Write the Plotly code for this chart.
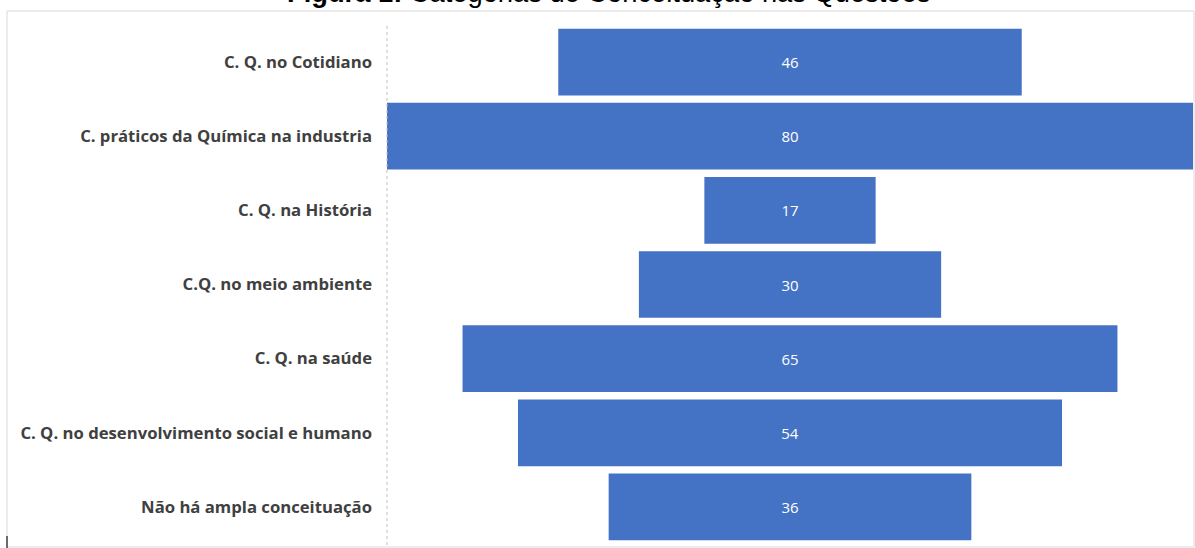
import plotly.graph_objects as go

categories = [
    "C. Q. no Cotidiano",
    "C. práticos da Química na industria",
    "C. Q. na História",
    "C.Q. no meio ambiente",
    "C. Q. na saúde",
    "C. Q. no desenvolvimento social e humano",
    "Não há ampla conceituação",
]
values = [46, 80, 17, 30, 65, 54, 36]
title_text = "<b>Figura 1:</b> Categorias de Conceituação nas Questões"

W, H = 1195, 548
ml, mr, mt, mb = 387, 2, 25, 4

fig = go.Figure(go.Funnel(
    y=categories,
    x=values,
    marker=dict(color="#4472C4", line=dict(width=0)),
    connector=dict(visible=False),
    textinfo="value",
    textposition="inside",
    insidetextanchor="middle",
    textfont=dict(color="white", size=15, family="Open Sans"),
    constraintext="none",
))

fig.update_layout(
    width=W, height=H,
    margin=dict(l=ml, r=mr, t=mt, b=mb),
    paper_bgcolor="white",
    plot_bgcolor="white",
    showlegend=False,
    funnelgap=0.1,
    xaxis=dict(visible=False, range=[-40, 40]),
    yaxis=dict(
        showgrid=False, showline=False, ticks="",
        tickfont=dict(family="Open Sans", size=16.7, color="#404040", weight="bold"),
        ticklabelstandoff=14,
    ),
)

ph = H - mt - mb
def py(pix):
    return (H - mb - pix) / ph
pw = W - ml - mr
def px(pix):
    return (pix - ml) / pw

# frame
fig.add_shape(type="rect", xref="paper", yref="paper",
              x0=px(7), x1=px(1194), y0=py(547), y1=py(11),
              line=dict(color="#D9D9D9", width=1), layer="below")
# dashed axis line
fig.add_shape(type="line", xref="paper", yref="paper",
              x0=0, x1=0, y0=py(545), y1=py(26),
              line=dict(color="#BFBFBF", width=1, dash="dot"))
# small dark tick bottom-left
fig.add_shape(type="line", xref="paper", yref="paper",
              x0=px(7), x1=px(7), y0=py(548), y1=py(536),
              line=dict(color="#404040", width=1.5))

fig.add_annotation(text=title_text, xref="paper", yref="paper",
                   x=px(608), y=py(10), xanchor="center", yanchor="bottom",
                   showarrow=False, font=dict(family="Arial", size=27.3, color="black"))

fig.write_html("out.html")
